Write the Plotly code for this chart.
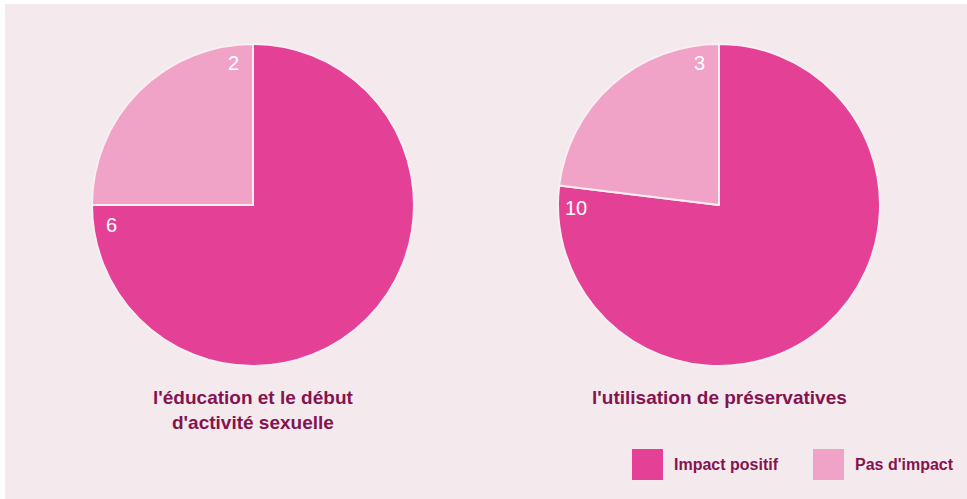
import math
import plotly.graph_objects as go

categories = ["Impact positif", "Pas d'impact"]
chart_titles = ["l'éducation et le début<br>d'activité sexuelle", "l'utilisation de préservatives"]
values_education = [6, 2]
values_preservatifs = [10, 3]
colors = ["#E44096", "#F0A3C7"]

W, H = 967, 499
TEXT = "#84134F"
FONT = "Liberation Sans, Arial, Helvetica, sans-serif"

fig = go.Figure()

centers = [(253, 205), (719, 205)]
R = 161
all_values = [values_education, values_preservatifs]

annotations = []
for (cx, cy), vals, title in zip(centers, all_values, chart_titles):
    fig.add_trace(go.Pie(
        labels=categories, values=vals, sort=False, direction="clockwise", rotation=0,
        marker=dict(colors=colors, line=dict(color="#F8EFF2", width=2)),
        textinfo="none", hoverinfo="label+value", showlegend=False,
        domain=dict(x=[(cx - R) / W, (cx + R) / W],
                    y=[(H - cy - R) / H, (H - cy + R) / H]),
    ))
    total = sum(vals)
    cum = 0
    for v in vals:
        cum += v
        end_ang = cum / total * 360 - 8
        a = math.radians(end_ang)
        rr = 143
        px = cx + rr * math.sin(a)
        py = cy - rr * math.cos(a)
        annotations.append(dict(x=px / W, y=1 - py / H, xref="paper", yref="paper",
                                text=str(v), showarrow=False,
                                font=dict(color="white", size=20, family=FONT),
                                xanchor="center", yanchor="middle"))
    annotations.append(dict(x=cx / W, y=1 - 385 / H, xref="paper", yref="paper",
                            text="<b>" + title.replace("<br>", "</b><br><b>") + "</b>",
                            showarrow=False, align="center",
                            font=dict(color=TEXT, size=19, family=FONT),
                            xanchor="center", yanchor="top"))

shapes = [dict(type="rect", xref="paper", yref="paper", x0=5 / W, x1=1, y0=0, y1=1 - 4 / H,
               fillcolor="#F4E9EC", line=dict(width=0), layer="below")]

leg_x = [632, 813]
for lx, c, lab in zip(leg_x, colors, categories):
    shapes.append(dict(type="rect", xref="paper", yref="paper",
                       x0=lx / W, x1=(lx + 31) / W, y0=1 - 480 / H, y1=1 - 449 / H,
                       fillcolor=c, line=dict(width=0)))
    annotations.append(dict(x=(lx + 40) / W, y=1 - 464.5 / H, xref="paper", yref="paper",
                            text="<b>" + lab + "</b>", showarrow=False,
                            xanchor="left", yanchor="middle",
                            font=dict(color=TEXT, size=16, family=FONT)))

fig.update_layout(
    width=W, height=H, margin=dict(l=0, r=0, t=0, b=0),
    paper_bgcolor="white", plot_bgcolor="white",
    shapes=shapes, annotations=annotations, showlegend=False,
)

fig.write_html("out.html", config={"displayModeBar": False},
               post_script="document.body.style.margin='0';document.body.style.padding='0';")
